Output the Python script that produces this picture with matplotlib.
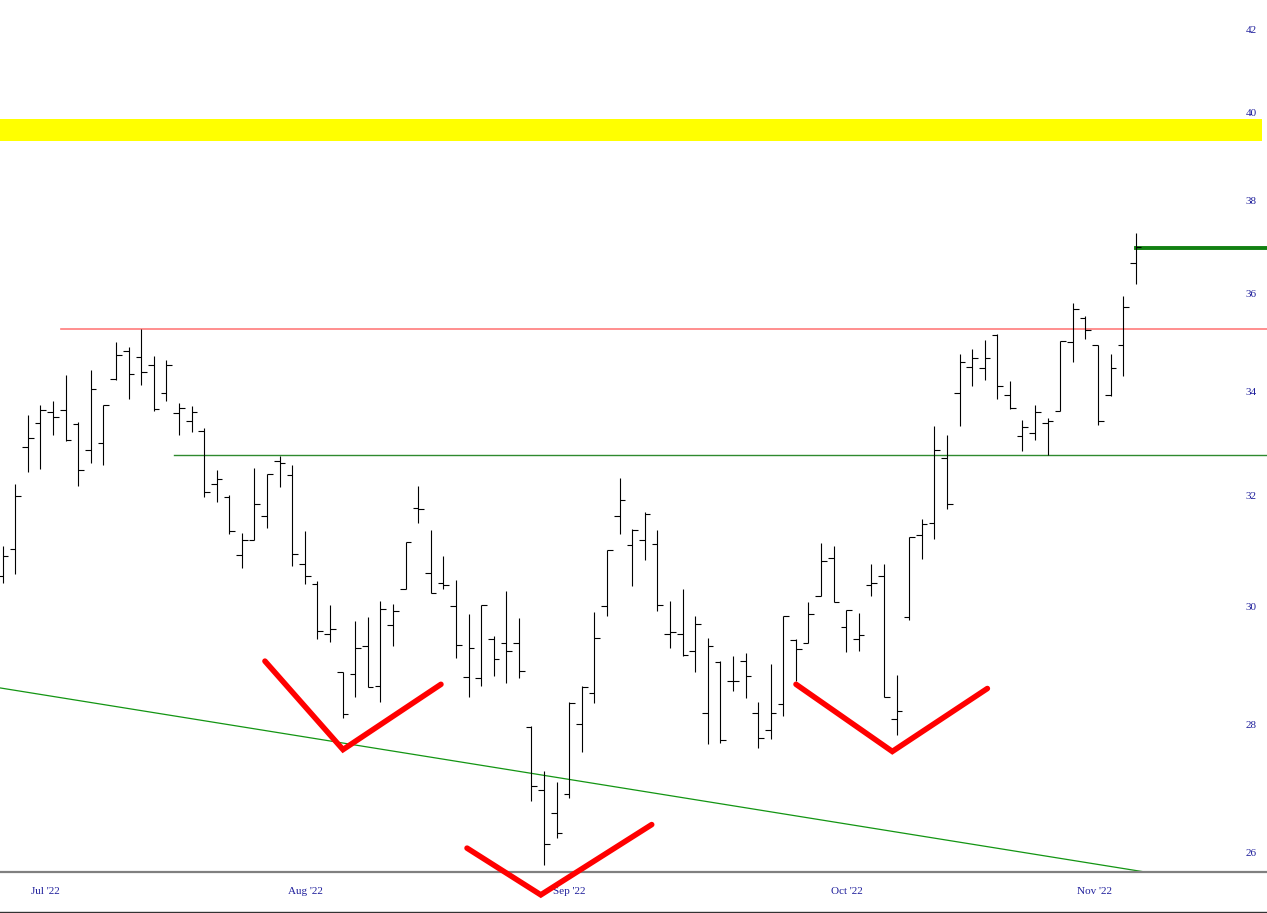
import numpy as np
import matplotlib
matplotlib.use('Agg')
import matplotlib.pyplot as plt
from matplotlib.ticker import FixedLocator, FixedFormatter, NullLocator
from matplotlib.lines import Line2D

# ---------------- data (daily OHLC) ----------------
highs = [31.08, 32.22, 33.54, 33.73, 33.82, 34.34, 33.40, 34.43, 33.74, 35.00,
         34.89, 35.26, 34.72, 34.64, 33.77, 33.72, 33.29, 32.49, 32.01, 31.32,
         32.53, 32.40, 32.75, 32.58, 31.35, 30.45, 30.03, 28.88, 29.75, 29.82,
         30.10, 30.05, 31.15, 32.19, 31.36, 30.89, 30.46, 29.87, 30.03, 29.49,
         30.27, 29.80, 27.99, 27.25, 27.08, 28.37, 28.64, 29.91, 31.00, 32.33,
         31.38, 31.69, 31.36, 30.10, 30.31, 29.84, 29.45, 29.06, 29.15, 29.19,
         28.38, 29.01, 29.84, 29.43, 30.07, 31.13, 31.08, 29.94, 29.88, 30.76,
         30.76, 28.82, 31.24, 31.57, 33.33, 33.16, 34.75, 34.86, 35.03, 35.16,
         34.21, 33.45, 33.73, 33.48, 35.01, 35.80, 35.54, 34.94, 34.75, 35.94,
         37.30]
lows = [30.42, 30.58, 32.45, 32.51, 33.16, 33.03, 32.19, 32.61, 32.57, 34.24,
        33.86, 34.13, 33.61, 33.81, 33.15, 33.21, 31.98, 31.88, 31.29, 30.68,
        31.18, 31.40, 32.17, 30.71, 30.40, 29.43, 29.38, 28.12, 28.46, 28.62,
        28.37, 29.32, 30.31, 31.50, 30.24, 30.31, 29.11, 28.46, 28.64, 28.81,
        28.69, 28.77, 26.78, 25.80, 26.22, 26.83, 27.56, 28.36, 29.84, 31.30,
        30.36, 30.83, 29.92, 29.28, 29.14, 28.88, 27.69, 27.70, 28.56, 28.45,
        27.63, 27.77, 28.15, 28.73, 29.36, 30.18, 30.07, 29.22, 29.23, 30.18,
        28.46, 27.84, 29.77, 30.85, 31.21, 31.75, 33.32, 34.11, 34.23, 33.85,
        33.65, 32.84, 33.06, 32.77, 33.61, 34.59, 35.06, 33.34, 33.92, 34.32,
        36.20]
opens = [30.53, 31.03, 32.93, 33.38, 33.60, 33.63, 33.37, 32.87, 32.99, 34.26,
         34.82, 34.70, 34.53, 33.97, 33.58, 33.42, 33.23, 32.22, 31.98, 30.92,
         31.19, 31.62, 32.66, 32.38, 30.75, 30.40, 29.53, 28.88, 28.85, 29.31,
         28.64, 29.67, 30.31, 31.78, 30.59, 30.42, 30.00, 28.80, 28.78, 29.43,
         29.37, 29.36, 27.96, 26.95, 26.60, 26.90, 28.01, 28.53, 30.00, 31.62,
         31.09, 31.19, 31.11, 29.52, 29.52, 29.23, 28.20, 29.04, 28.73, 29.07,
         28.20, 27.91, 28.35, 29.42, 29.36, 30.18, 30.86, 29.65, 29.43, 30.37,
         30.53, 28.10, 29.81, 31.28, 31.49, 32.72, 33.97, 34.49, 34.47, 35.14,
         33.94, 33.13, 33.19, 33.38, 33.61, 35.00, 35.49, 34.94, 33.94, 34.93,
         36.64]
closes = [30.89, 32.00, 33.10, 33.63, 33.50, 33.05, 32.48, 34.05, 33.73, 34.73,
          34.35, 34.39, 33.65, 34.53, 33.68, 33.59, 32.07, 32.31, 31.34, 31.19,
          31.84, 32.40, 32.61, 30.94, 30.54, 29.58, 29.61, 28.18, 29.29, 28.62,
          29.96, 29.92, 31.15, 31.76, 30.24, 30.37, 29.33, 29.29, 30.03, 29.10,
          29.23, 28.89, 27.02, 26.13, 26.29, 28.36, 28.62, 29.46, 31.00, 31.92,
          31.37, 31.67, 30.02, 29.55, 29.17, 29.69, 29.31, 27.75, 28.72, 28.81,
          27.79, 28.20, 29.84, 29.26, 29.87, 30.80, 30.07, 29.94, 29.50, 30.41,
          28.46, 28.23, 31.24, 31.47, 32.86, 31.85, 34.59, 34.68, 34.68, 34.11,
          33.67, 33.30, 33.59, 33.42, 35.01, 35.68, 35.24, 33.42, 34.47, 35.71,
          36.98]

month_labels = ["Jul '22", "Aug '22", "Sep '22", "Oct '22", "Nov '22"]
month_pos = [3.36, 24.05, 45.02, 67.02, 86.68]          # in bar-index units
price_ticks = [26, 28, 30, 32, 34, 36, 38, 40, 42]

# drawn annotations (bar index, price)
resistance_level = 35.27
resistance_start = 4.63
support_level = 32.76
support_start = 13.6
trend_x = [-0.214, 90.73]
trend_y = [28.61, 25.70]
zone_low, zone_high = 39.35, 39.85
target_level = 36.97
target_start = 90
v1_x, v1_y = [20.83, 27.03, 34.81], [29.06, 27.60, 28.67]
v2_x, v2_y = [36.88, 42.74, 51.55], [26.06, 25.36, 26.42]
v3_x, v3_y = [63.01, 70.66, 78.21], [28.67, 27.57, 28.60]

# ---------------- figure ----------------
plt.rcParams['font.family'] = ['Liberation Serif', 'DejaVu Serif']
W, H = 1267, 913
fig = plt.figure(figsize=(W / 100, H / 100), dpi=100)
ax = fig.add_axes([0, 41 / H, 1, 872 / H])
ax.set_yscale('log')
ax.set_ylim(25.70, 42.716)
XL = (-0.214, 100.42)
ax.set_xlim(*XL)

# yellow zone
ax.axhspan(zone_low, zone_high, xmin=0, xmax=1262 / 1267, color='#ffff00', lw=0, zorder=0)

# horizontal levels
ax.plot([resistance_start, XL[1]], [resistance_level] * 2, color='#ff7b7b', lw=1.2, zorder=2)
ax.plot([support_start, XL[1]], [support_level] * 2, color='#2f8a2f', lw=1.0, zorder=2)
ax.plot(trend_x, trend_y, color='#139513', lw=0.9, zorder=2)
ax.plot([target_start, XL[1]], [target_level] * 2, color='#118011', lw=2.8, zorder=3)

# OHLC bars
x = np.arange(len(highs))
tick = 0.45
ax.vlines(x, lows, highs, color='black', lw=0.8, zorder=4)
ax.hlines(opens, x - tick, x, color='black', lw=0.8, zorder=4)
ax.hlines(closes, x, x + tick, color='black', lw=0.8, zorder=4)

# red V annotations
for vx, vy in [(v1_x, v1_y), (v2_x, v2_y), (v3_x, v3_y)]:
    ax.plot(vx, vy, color='#ff0000', lw=4.0, solid_capstyle='round',
            solid_joinstyle='miter', zorder=6, clip_on=False)

# axes styling
for s in ['top', 'left', 'right']:
    ax.spines[s].set_visible(False)
ax.spines['bottom'].set_color('#808080')
ax.spines['bottom'].set_linewidth(1.6)

label_color = '#1f1f9c'
ax.yaxis.set_major_locator(FixedLocator(price_ticks))
ax.yaxis.set_major_formatter(FixedFormatter([str(t) for t in price_ticks]))
ax.yaxis.set_minor_locator(NullLocator())
ax.yaxis.tick_right()
ax.tick_params(axis='y', which='both', length=0, pad=-15.5, labelsize=8,
               labelcolor=label_color)
ax.set_xticks(month_pos)
ax.set_xticklabels(month_labels)
ax.tick_params(axis='x', length=0, pad=11, labelsize=8, labelcolor=label_color)

fig.add_artist(Line2D([0, 1], [1.2 / H, 1.2 / H], transform=fig.transFigure,
                      color='#333333', lw=1.0))

fig.savefig('out.png', dpi=100, facecolor='white')
